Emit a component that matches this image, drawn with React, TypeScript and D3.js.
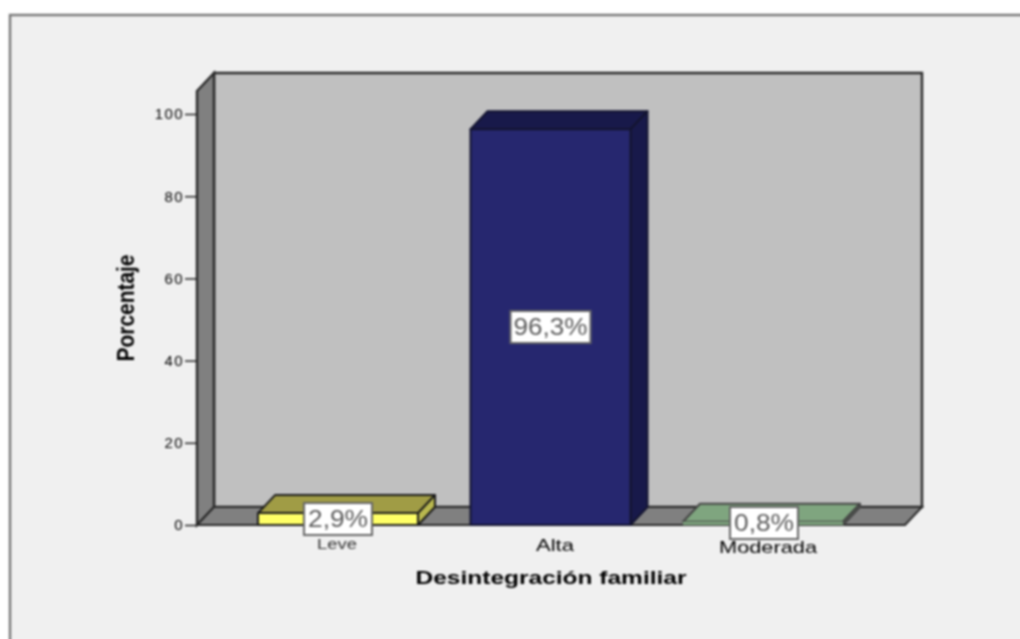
import * as d3 from "d3";
import { useRef, useEffect } from "react";

const categories = ["Leve", "Alta", "Moderada"];
const percentages = [2.9, 96.3, 0.8];
const valueLabels = ["2,9%", "96,3%", "0,8%"];
const yTicks = [0, 20, 40, 60, 80, 100];
const barFront = ["#ffff66", "#26276f", "#7fa57f"];
const barTop = ["#a09c45", "#18194a", "#7fa57f"];
const barSide = ["#b9b84f", "#18194a", "#7fa57f"];
const barStroke = ["#1a1a1a", "#141530", "#444"];

const width = 1020;
const height = 639;
const depthX = 17;
const depthY = 18;

export default function App() {
  const gy = useRef<SVGGElement | null>(null);

  const x = d3.scaleBand(categories, [231.75, 869.25]).paddingInner(0.247).paddingOuter(0.1235);
  const y = d3.scaleLinear([0, 100], [525, 114]);
  const floorY = y(0);
  const topY = y(105.6);
  const left = 197;
  const right = 905;

  useEffect(() => {
    if (gy.current) {
      const g = d3.select(gy.current);
      g.call(d3.axisLeft(y).tickValues(yTicks).tickSize(12).tickPadding(1));
      g.select(".domain").remove();
      g.selectAll(".tick line").attr("stroke", "#222").attr("stroke-width", 1.5);
      g.selectAll(".tick text")
        .attr("font-family", "Liberation Sans")
        .attr("font-size", 15)
        .attr("letter-spacing", 1.4)
        .attr("fill", "#000");
    }
  }, []);

  const poly = (pts: [number, number][]) => pts.map((p) => p.join(",")).join(" ");

  return (
    <svg width={width} height={height} style={{ position: "fixed", left: 0, top: 0, background: "#fff" }}>
      <defs>
        <filter id="soft" filterUnits="userSpaceOnUse" x={0} y={0} width={width} height={height} colorInterpolationFilters="sRGB">
          <feGaussianBlur stdDeviation="0.8" />
        </filter>
      </defs>
      <g filter="url(#soft)">
        <rect x={10} y={15} width={width + 20} height={height + 20} fill="#f0f0f0" stroke="#777" strokeWidth={2.4} />

        {/* walls and floor */}
        <polygon
          points={poly([[left + depthX, topY - depthY], [right + depthX, topY - depthY], [right + depthX, floorY - depthY], [left + depthX, floorY - depthY]])}
          fill="#c0c0c0" stroke="#2a2a2a" strokeWidth={2.4}
        />
        <polygon
          points={poly([[left, topY], [left + depthX, topY - depthY], [left + depthX, floorY - depthY], [left, floorY]])}
          fill="#808080" stroke="#2a2a2a" strokeWidth={2.4}
        />
        <polygon
          points={poly([[left, floorY], [left + depthX, floorY - depthY], [right + depthX, floorY - depthY], [right, floorY]])}
          fill="#808080" stroke="#2a2a2a" strokeWidth={2}
        />

        <g ref={gy} transform={`translate(${left},0)`} />

        {/* bars */}
        {categories.map((c, i) => {
          const x0 = x(c) as number;
          const x1 = x0 + x.bandwidth();
          const yTop = y(percentages[i]);
          return (
            <g key={c} stroke={barStroke[i]} strokeWidth={2} strokeLinejoin="round">
              <polygon
                points={poly([[x0, yTop], [x0 + depthX, yTop - depthY], [x1 + depthX, yTop - depthY], [x1, yTop]])}
                fill={barTop[i]}
              />
              <polygon
                points={poly([[x1, yTop], [x1 + depthX, yTop - depthY], [x1 + depthX, floorY - depthY], [x1, floorY]])}
                fill={barSide[i]}
              />
              <rect x={x0} y={yTop} width={x.bandwidth()} height={floorY - yTop} fill={barFront[i]} stroke={i === 2 ? "none" : barStroke[i]} />
            </g>
          );
        })}

        {/* value labels */}
        {categories.map((c, i) => {
          const cx = (x(c) as number) + x.bandwidth() / 2;
          const cy = [519, 327, 523][i];
          const w = [68, 80, 68][i];
          const tw = [60, 74, 60][i];
          return (
            <g key={c}>
              <rect x={cx - w / 2 + (i === 2 ? 1 : 0)} y={cy - 16} width={w} height={32} fill="#fff" stroke="#666" strokeWidth={2} />
              <text
                x={cx + (i === 2 ? 1 : 0)}
                y={cy + 8}
                textAnchor="middle"
                fontFamily="Liberation Sans"
                fontSize={24}
                fill="#5c5c5c"
                textLength={tw}
                lengthAdjust="spacingAndGlyphs"
              >
                {valueLabels[i]}
              </text>
            </g>
          );
        })}

        {/* category labels */}
        {categories.map((c, i) => (
          <text
            key={c}
            x={[337, 555, 768][i]}
            y={[549, 551, 553][i]}
            textAnchor="middle"
            fontFamily="Liberation Sans"
            fontSize={[14, 17, 17][i]}
            fill={i === 0 ? "#333" : "#000"}
            textLength={[40, 38, 98][i]}
            lengthAdjust="spacingAndGlyphs"
          >
            {c}
          </text>
        ))}

        <text
          transform="translate(134,308) rotate(-90)"
          textAnchor="middle"
          fontFamily="Liberation Sans"
          fontWeight="bold"
          fontSize={23}
          fill="#000"
          textLength={107}
          lengthAdjust="spacingAndGlyphs"
        >
          Porcentaje
        </text>
        <text
          x={551}
          y={584}
          textAnchor="middle"
          fontFamily="Liberation Sans"
          fontWeight="bold"
          fontSize={19}
          fill="#000"
          textLength={271}
          lengthAdjust="spacingAndGlyphs"
        >
          Desintegración familiar
        </text>
      </g>
    </svg>
  );
}
